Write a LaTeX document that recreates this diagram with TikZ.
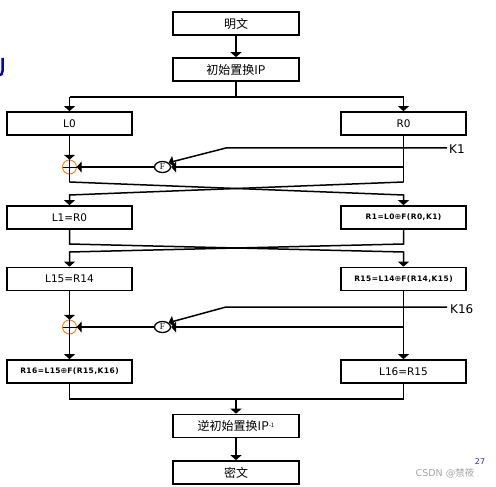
\documentclass[tikz,border=0pt]{standalone}
\usepackage{fontspec}
\setmainfont{DejaVu Sans}
\newfontfamily\cjk{Noto Sans CJK SC}
\newfontfamily\serifF{Liberation Serif}
\newfontfamily\wideF[LetterSpace=6]{DejaVu Sans}
\usetikzlibrary{arrows.meta,shapes.geometric}
\tikzset{
  box/.style={draw,line width=1.7pt,minimum width=125pt,minimum height=23pt,inner sep=0pt,font=\fontsize{10.5}{10}\selectfont},
  cbox/.style={box,minimum width=126pt,font=\cjk\fontsize{12}{12}\selectfont},
  fbox/.style={box,font=\wideF\bfseries\fontsize{7.5}{7.5}\selectfont},
  ln/.style={line width=1.5pt},
  ar/.style={ln,-{Triangle[width=11pt,length=5pt]}},
  fnode/.style={draw,ellipse,line width=1.3pt,minimum width=16pt,minimum height=11pt,inner sep=0pt,font=\serifF\fontsize{9}{9}\selectfont},
  xnode/.style={circle,minimum size=14pt,inner sep=0pt},
  klabel/.style={font=\fontsize{12}{12}\selectfont,anchor=west,inner sep=0pt}
}
\begin{document}
\begin{tikzpicture}[x=1pt,y=-1pt]
\useasboundingbox (0,0) rectangle (496,487);
% boxes
\node[cbox] (m) at (236,23.5) {明文};
\node[cbox] (ip) at (236,69.5) {初始置换IP};
\node[box] (L0) at (69.5,123.5) {L0};
\node[box] (R0) at (403.5,123.5) {R0};
\node[box] (L1) at (69.5,217.5) {L1=R0};
\node[fbox] (R1) at (403.5,217.5) {R1=L0{\normalfont\fontsize{8}{8}\selectfont ⊕}F(R0,K1)};
\node[box] (L15) at (69.5,279) {L15=R14};
\node[fbox] (R15) at (403.5,279) {R15=L14{\normalfont\fontsize{8}{8}\selectfont ⊕}F(R14,K15)};
\node[fbox] (R16) at (69.5,371.5) {R16=L15{\normalfont\fontsize{8}{8}\selectfont ⊕}F(R15,K16)};
\node[box] (L16) at (403.5,371.5) {L16=R15};
\node[cbox] (ipi) at (236,426) {逆初始置换IP\raisebox{3.5pt}{\fontsize{6}{6}\selectfont -1}};
\node[cbox] (c) at (236,472.5) {密文};
% xor and F nodes
\node[xnode] (x1) at (69.5,167) {};
\node[fnode] (f1) at (162.5,167) {F};
\node[xnode] (x2) at (69.5,327) {};
\node[fnode] (f2) at (162.5,327) {F};
\foreach \x in {x1,x2}{
  \draw[orange,line width=0.9pt] (\x) circle (7pt);
  \draw[blue!70!black,line width=0.9pt] ([yshift=-7pt]\x.center) -- ([yshift=7pt]\x.center);
  \draw[line width=0.9pt] ([xshift=-7pt]\x.center) -- ([xshift=7pt]\x.center);
}
% keys
\node[klabel] (k1) at (449,149) {K1};
\node[klabel] (k16) at (450,309) {K16};
\coordinate (k1a) at (447,148);
\coordinate (k1b) at (226,148);
\coordinate (k16a) at (447,307);
\coordinate (k16b) at (226,307);
\draw[ar] (k1a) -- (k1b) -- (f1.north east);
\draw[ar] (k16a) -- (k16b) -- (f2.north east);
% top split
\coordinate (t0) at (236,97);
\coordinate (tl) at (69.5,97);
\coordinate (tr) at (403.5,97);
\draw[ar] (m) -- (ip);
\draw[ln] (ip.south) -- (t0);
\draw[ln] (tl) -- (tr);
\draw[ar] (tl) -- (L0.north);
\draw[ar] (tr) -- (R0.north);
% round 1
\coordinate (r0j) at (403.5,167);
\coordinate (l0c) at (69.5,182);
\coordinate (r0c) at (403.5,182);
\coordinate (l1c) at (69.5,195);
\coordinate (r1c) at (403.5,195);
\draw[ar] (L0.south) -- (x1.north);
\draw[ar] (r0j) -- (f1.east);
\draw[ar] (f1.west) -- (x1.east);
\draw[ln] (R0.south) -- (r0j) -- (r0c);
\draw[ln] (x1.south) -- (l0c);
\draw[ar] (l0c) -- (r1c) -- (R1.north);
\draw[ar] (r0c) -- (l1c) -- (L1.north);
% round 2 cross
\coordinate (a1) at (69.5,244);
\coordinate (a2) at (403.5,244);
\coordinate (b1) at (69.5,252);
\coordinate (b2) at (403.5,252);
\draw[ar] (L1.south) -- (a1) -- (b2) -- (R15.north);
\draw[ar] (R1.south) -- (a2) -- (b1) -- (L15.north);
% round 16
\coordinate (r15j) at (403.5,327);
\draw[ar] (L15.south) -- (x2.north);
\draw[ar] (r15j) -- (f2.east);
\draw[ar] (f2.west) -- (x2.east);
\draw[ar] (x2.south) -- (R16.north);
\draw[ar] (R15.south) -- (L16.north);
% bottom join
\coordinate (j1) at (69.5,399);
\coordinate (j2) at (403.5,399);
\coordinate (j0) at (236,399);
\draw[ln] (R16.south) -- (j1) -- (j2) -- (L16.south);
\draw[ar] (j0) -- (ipi.north);
\draw[ar] (ipi) -- (c);
% watermark and cut-off glyph
\node[text=gray!70,font=\fontsize{9.5}{10}\selectfont,inner sep=0pt] (wm) at (445,473) {CSDN @{\cjk 禁筱}};
\node[text=blue!60!gray,font=\fontsize{8}{8}\selectfont,inner sep=0pt] (pg) at (480,462) {27};
\draw[blue!75!black,line width=2.5pt] (2.5,58) -- (2.5,71) to[out=-90,in=0] (-1,75.5);
\end{tikzpicture}
\end{document}
